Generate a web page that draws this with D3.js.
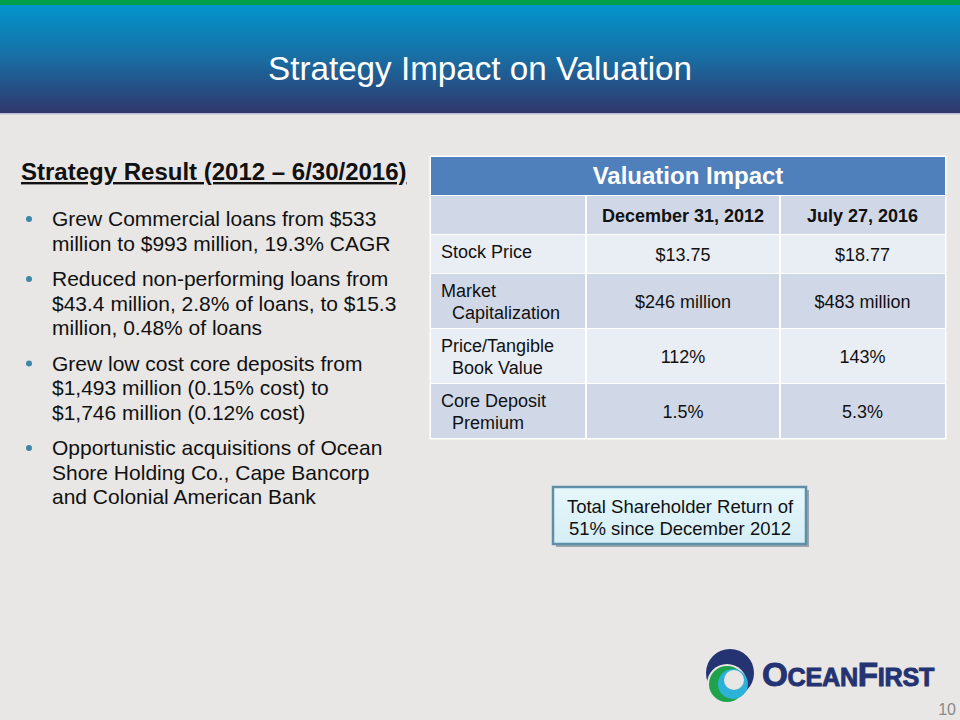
<!DOCTYPE html>
<html>
<head>
<meta charset="utf-8">
<script src="https://cdn.jsdelivr.net/npm/d3@7/dist/d3.min.js"></script>
<style>
html,body{margin:0;padding:0;background:#e8e7e5;}
svg{display:block;font-family:"Liberation Sans",Arial,sans-serif;}
</style>
</head>
<body>
<script>
const title = "Strategy Impact on Valuation";
const leftHeading = "Strategy Result (2012 \u2013 6/30/2016)";
const bullets = [
  ["Grew Commercial loans from $533", "million to $993 million, 19.3% CAGR"],
  ["Reduced non-performing loans from", "$43.4 million, 2.8% of loans, to $15.3", "million, 0.48% of loans"],
  ["Grew low cost core deposits from", "$1,493 million (0.15% cost) to", "$1,746 million (0.12% cost)"],
  ["Opportunistic acquisitions of Ocean", "Shore Holding Co., Cape Bancorp", "and Colonial American Bank"]
];
const tableTitle = "Valuation Impact";
const columns = ["December 31, 2012", "July 27, 2016"];
const rowLabels = [["Stock Price"], ["Market", "Capitalization"], ["Price/Tangible", "Book Value"], ["Core Deposit", "Premium"]];
const values2012 = ["$13.75", "$246 million", "112%", "1.5%"];
const values2016 = ["$18.77", "$483 million", "143%", "5.3%"];
const calloutLines = ["Total Shareholder Return of", "51% since December 2012"];
const pageNumber = "10";

const W = 960, H = 720;
const BG = "#e8e7e5";
const svg = d3.select("body").append("svg").attr("width", W).attr("height", H);
const defs = svg.append("defs");

const hg = defs.append("linearGradient").attr("id","hdr").attr("x1",0).attr("y1",0).attr("x2",0).attr("y2",1);
hg.append("stop").attr("offset","0%").attr("stop-color","#0099d0");
hg.append("stop").attr("offset","45%").attr("stop-color","#1674aa");
hg.append("stop").attr("offset","100%").attr("stop-color","#30376c");

const cg = defs.append("linearGradient").attr("id","call").attr("x1",0).attr("y1",0).attr("x2",0).attr("y2",1);
cg.append("stop").attr("offset","0%").attr("stop-color","#e6f7fb");
cg.append("stop").attr("offset","100%").attr("stop-color","#d4eef5");

svg.append("rect").attr("width",W).attr("height",H).attr("fill",BG);
// header
svg.append("rect").attr("x",0).attr("y",0).attr("width",W).attr("height",113).attr("fill","url(#hdr)");
svg.append("rect").attr("x",0).attr("y",0).attr("width",W).attr("height",5).attr("fill","#00a04b");
svg.append("rect").attr("x",0).attr("y",113).attr("width",W).attr("height",1.5).attr("fill","#b9bdd0");
svg.append("text").attr("x",480).attr("y",80).attr("text-anchor","middle")
  .attr("fill","#ffffff").attr("font-size",33).attr("textLength",424).attr("lengthAdjust","spacingAndGlyphs").text(title);

// left heading
svg.append("text").attr("x",21).attr("y",180).attr("font-size",24).attr("font-weight","bold")
  .attr("fill","#111").attr("text-decoration","underline").text(leftHeading);

// bullets
const lineH = 24.5, bulletGap = 35.5;
let y = 226;
const bg = svg.append("g");
bullets.forEach(lines => {
  bg.append("circle").attr("cx",29).attr("cy",y-7).attr("r",3).attr("fill","#3d87a8");
  lines.forEach((ln,i) => {
    bg.append("text").attr("x",52).attr("y",y + i*lineH).attr("font-size",21).attr("fill","#111").text(ln);
  });
  y += (lines.length-1)*lineH + bulletGap;
});

// table
const tx0 = 431, tx1 = 945;
const colX = d3.scaleOrdinal().domain([0,1,2]).range([431, 586, 780]);
const colEnd = [586, 780, 945];
const rowTops = [157, 196, 235, 274, 329, 384];
const rowBots = [195, 234, 273, 328, 383, 438];
const tg = svg.append("g");
tg.append("rect").attr("x",tx0-1.5).attr("y",rowTops[0]-1.5).attr("width",tx1-tx0+3).attr("height",rowBots[5]-rowTops[0]+3).attr("fill","#ffffff");
tg.append("rect").attr("x",tx0).attr("y",rowTops[0]).attr("width",tx1-tx0).attr("height",rowBots[0]-rowTops[0]).attr("fill","#4f80bc");
tg.append("text").attr("x",(tx0+tx1)/2).attr("y",(rowTops[0]+rowBots[0])/2+8).attr("text-anchor","middle")
  .attr("font-size",24).attr("font-weight","bold").attr("fill","#fff").text(tableTitle);

const fills = ["#d0d8e8","#e9edf4","#d0d8e8","#e9edf4","#d0d8e8"];
for (let r = 1; r < 6; r++) {
  for (let c = 0; c < 3; c++) {
    const x0 = colX(c) + (c>0?1:0), x1 = colEnd[c] - (c<2?1:0);
    tg.append("rect").attr("x",x0).attr("y",rowTops[r]).attr("width",x1-x0).attr("height",rowBots[r]-rowTops[r]).attr("fill",fills[r-1]);
  }
}
columns.forEach((c,i) => {
  const cx = (colX(i+1)+colEnd[i+1])/2;
  tg.append("text").attr("x",cx).attr("y",(rowTops[1]+rowBots[1])/2+6.5).attr("text-anchor","middle")
    .attr("font-size",18).attr("font-weight","bold").attr("fill","#111").text(c);
});
rowLabels.forEach((lab,i) => {
  const r = i+2;
  const mid = (rowTops[r]+rowBots[r])/2;
  if (lab.length === 1) {
    tg.append("text").attr("x",441).attr("y",mid+4).attr("font-size",18).attr("fill","#111").text(lab[0]);
  } else {
    lab.forEach((l,j) => {
      tg.append("text").attr("x",j===0?441:452).attr("y",mid - 4 + j*22).attr("font-size",18).attr("fill","#111").text(l);
    });
  }
  [values2012[i], values2016[i]].forEach((v,k) => {
    const cx = (colX(k+1)+colEnd[k+1])/2;
    tg.append("text").attr("x",cx).attr("y",mid+7).attr("text-anchor","middle").attr("font-size",18).attr("fill","#111").text(v);
  });
});

// callout
const co = svg.append("g");
co.append("rect").attr("x",556).attr("y",490).attr("width",253).attr("height",57).attr("fill","#9aa5ad");
co.append("rect").attr("x",553).attr("y",487).attr("width",253).attr("height",57).attr("fill","url(#call)")
  .attr("stroke","#5f8ea8").attr("stroke-width",2.5);
calloutLines.forEach((l,i) => {
  co.append("text").attr("x",680).attr("y",513+i*22).attr("text-anchor","middle").attr("font-size",18.5).attr("fill","#111").text(l);
});

// logo
const lg = svg.append("g");
lg.append("circle").attr("cx",730).attr("cy",673).attr("r",24).attr("fill","#243372");
lg.append("circle").attr("cx",727).attr("cy",684).attr("r",20).attr("fill",BG);
lg.append("circle").attr("cx",727).attr("cy",684).attr("r",18).attr("fill","#1fa34a");
lg.append("circle").attr("cx",733).attr("cy",684).attr("r",15).attr("fill","#2cb2d8");
lg.append("circle").attr("cx",734).attr("cy",680).attr("r",10).attr("fill",BG);

const lt = svg.append("text").attr("x",762).attr("y",686).attr("fill","#243372").attr("font-weight","bold")
  .attr("stroke","#243372").attr("stroke-width",0.9).attr("letter-spacing",-0.3)
  .attr("textLength",172).attr("lengthAdjust","spacingAndGlyphs");
lt.append("tspan").attr("font-size",33).text("O");
lt.append("tspan").attr("font-size",25).text("CEAN");
lt.append("tspan").attr("font-size",33).text("F");
lt.append("tspan").attr("font-size",25).text("IRST");

svg.append("text").attr("x",956).attr("y",715).attr("text-anchor","end").attr("font-size",16).attr("fill","#8a8a8a")
  .text(pageNumber);
</script>
</body>
</html>
